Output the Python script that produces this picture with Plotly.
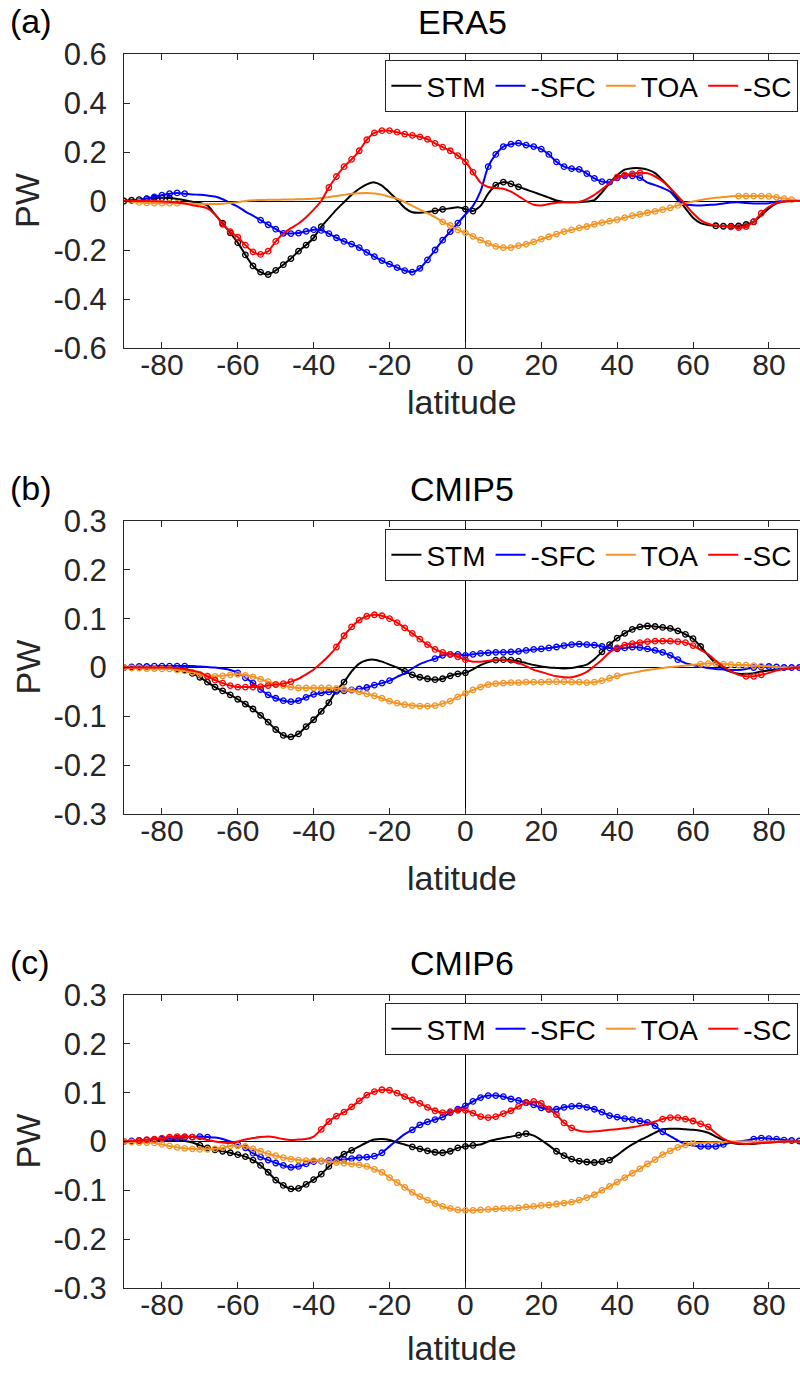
import plotly.graph_objects as go

W, H = 800, 1374

lat = list(range(-90, 91, 2))

# ---------------- ERA5 ----------------
era5_stm = [0, 0.003, 0.006, 0.009, 0.012, 0.013, 0.012, 0.008, 0.003, -0.003,
            -0.008, -0.018, -0.055, -0.09, -0.13, -0.17, -0.22, -0.265, -0.29, -0.30,
            -0.283, -0.26, -0.235, -0.205, -0.18, -0.15, -0.105, -0.07, -0.035, -0.005,
            0.025, 0.05, 0.068, 0.076, 0.063, 0.035, 0.005, -0.028, -0.046, -0.048,
            -0.045, -0.04, -0.034, -0.03, -0.026, -0.033, -0.041, -0.02, 0.03, 0.065,
            0.077, 0.07, 0.058, 0.047, 0.036, 0.025, 0.014, 0.002, -0.004, -0.005,
            -0.004, -0.002, 0.004, 0.035, 0.073, 0.105, 0.128, 0.134, 0.134, 0.128,
            0.114, 0.085, 0.052, 0.01, -0.03, -0.068, -0.09, -0.098, -0.101, -0.103,
            -0.103, -0.102, -0.096, -0.085, -0.058, -0.03, -0.01, -0.002, 0, 0, 0]
era5_sfc = [0, 0.002, 0.005, 0.01, 0.017, 0.024, 0.03, 0.033, 0.03, 0.027,
            0.025, 0.022, 0.018, 0.007, -0.008, -0.023, -0.043, -0.06, -0.078, -0.097,
            -0.115, -0.132, -0.133, -0.131, -0.124, -0.117, -0.12, -0.133, -0.15, -0.165,
            -0.176, -0.19, -0.21, -0.227, -0.243, -0.258, -0.272, -0.284, -0.29, -0.275,
            -0.24, -0.2, -0.16, -0.125, -0.09, -0.055, -0.02, 0.04, 0.14, 0.19,
            0.222, 0.232, 0.236, 0.228, 0.222, 0.212, 0.19, 0.16, 0.14, 0.132,
            0.129, 0.112, 0.092, 0.079, 0.077, 0.094, 0.103, 0.103, 0.095, 0.075,
            0.065, 0.053, 0.038, 0.003, -0.015, -0.017, -0.018, -0.016, -0.014, -0.01,
            -0.006, -0.005, -0.008, -0.01, -0.01, -0.009, -0.003, 0, 0, 0, 0]
era5_toa = [0, -0.003, -0.006, -0.008, -0.009, -0.009, -0.009, -0.009, -0.01, -0.011,
            -0.012, -0.012, -0.012, -0.011, -0.008, -0.005, 0, 0.003, 0.004, 0.005,
            0.005, 0.006, 0.006, 0.007, 0.008, 0.009, 0.012, 0.016, 0.02, 0.025,
            0.03, 0.032, 0.033, 0.031, 0.026, 0.017, 0.009, -0.004, -0.02, -0.035,
            -0.05, -0.066, -0.085, -0.1, -0.118, -0.13, -0.144, -0.16, -0.173, -0.185,
            -0.19, -0.19, -0.182, -0.176, -0.167, -0.156, -0.146, -0.135, -0.125, -0.118,
            -0.11, -0.104, -0.095, -0.088, -0.082, -0.076, -0.068, -0.06, -0.054, -0.048,
            -0.042, -0.035, -0.028, -0.018, -0.009, -0.002, 0.004, 0.009, 0.013, 0.016,
            0.019, 0.02, 0.02, 0.02, 0.02, 0.019, 0.015, 0.01, 0.006, 0.002, 0]
era5_sc = [0, 0, 0, 0, -0.001, -0.002, -0.004, -0.006, -0.01, -0.017,
           -0.022, -0.03, -0.055, -0.095, -0.125, -0.148, -0.18, -0.208, -0.218, -0.205,
           -0.165, -0.133, -0.111, -0.092, -0.066, -0.035, 0.0, 0.055, 0.1, 0.14,
           0.17, 0.205, 0.25, 0.278, 0.287, 0.287, 0.281, 0.273, 0.268, 0.262,
           0.252, 0.235, 0.22, 0.205, 0.185, 0.16, 0.118, 0.075, 0.057, 0.053,
           0.05, 0.038, 0.02, 0.0, -0.015, -0.018, -0.012, -0.007, -0.005, -0.005,
           -0.003, 0.008, 0.025, 0.048, 0.073, 0.097, 0.106, 0.111, 0.115, 0.113,
           0.1, 0.08, 0.052, 0.02, -0.015, -0.05, -0.078, -0.093, -0.1, -0.102,
           -0.106, -0.109, -0.104, -0.084, -0.05, -0.024, -0.008, -0.002, 0, 0, 0]
era5_sig_stm = [(-90, -78), (-64, -38), (-8, -6), (0, 2), (8, 14), (66, 76)]
era5_sig_sfc = [(-84, -74), (-54, -2), (6, 46)]
era5_sig_toa = [(-86, -76), (-6, 56), (72, 86)]
era5_sig_sc = [(-64, -50), (-36, 2), (40, 46), (70, 78)]

# ---------------- CMIP5 ----------------
cmip5_stm = [0, 0, 0, 0, 0, 0, 0, -0.002, -0.005, -0.012,
             -0.02, -0.03, -0.04, -0.048, -0.056, -0.065, -0.075, -0.085, -0.098, -0.112,
             -0.127, -0.139, -0.142, -0.136, -0.121, -0.107, -0.09, -0.072, -0.047, -0.03,
             -0.008, 0.008, 0.015, 0.016, 0.012, 0.006, 0.0, -0.008, -0.015, -0.02,
             -0.023, -0.025, -0.023, -0.017, -0.013, -0.011, -0.004, 0.005, 0.011, 0.015,
             0.016, 0.015, 0.013, 0.009, 0.005, 0.002, 0.0, -0.001, -0.002, -0.001,
             0.002, 0.006, 0.017, 0.032, 0.047, 0.06, 0.07, 0.078, 0.083, 0.085,
             0.084, 0.082, 0.08, 0.075, 0.068, 0.059, 0.043, 0.025, 0.008, -0.003,
             -0.009, -0.013, -0.013, -0.012, -0.008, -0.006, -0.004, -0.003, -0.001, 0, 0]
cmip5_sfc = [0, 0.001, 0.002, 0.002, 0.003, 0.003, 0.003, 0.003, 0.003, 0.003,
             0.002, 0.001, 0, -0.002, -0.005, -0.011, -0.021, -0.032, -0.045, -0.056,
             -0.063, -0.068, -0.07, -0.068, -0.061, -0.055, -0.052, -0.05, -0.049, -0.048,
             -0.046, -0.044, -0.041, -0.036, -0.032, -0.027, -0.019, -0.012, -0.002, 0.007,
             0.013, 0.018, 0.025, 0.027, 0.027, 0.025, 0.027, 0.029, 0.03, 0.031,
             0.031, 0.032, 0.033, 0.035, 0.037, 0.038, 0.04, 0.042, 0.045, 0.047,
             0.048, 0.047, 0.046, 0.043, 0.04, 0.038, 0.04, 0.042, 0.041, 0.038,
             0.035, 0.031, 0.025, 0.016, 0.009, 0.005, 0.002, -0.001, -0.003, -0.004,
             -0.005, -0.005, -0.003, 0, 0.001, 0.002, 0.001, 0, 0, 0, 0]
cmip5_toa = [0, -0.001, -0.001, -0.002, -0.002, -0.003, -0.003, -0.005, -0.007, -0.01,
             -0.014, -0.017, -0.018, -0.017, -0.015, -0.014, -0.016, -0.019, -0.024, -0.029,
             -0.034, -0.037, -0.04, -0.042, -0.042, -0.042, -0.042, -0.042, -0.043, -0.045,
             -0.047, -0.05, -0.054, -0.058, -0.063, -0.069, -0.073, -0.076, -0.078, -0.079,
             -0.079, -0.078, -0.074, -0.069, -0.06, -0.053, -0.046, -0.04, -0.035, -0.033,
             -0.032, -0.031, -0.031, -0.03, -0.03, -0.03, -0.029, -0.029, -0.029, -0.03,
             -0.03, -0.031, -0.03, -0.027, -0.022, -0.017, -0.014, -0.011, -0.008, -0.005,
             -0.003, -0.001, 0.001, 0.002, 0.004, 0.005, 0.007, 0.008, 0.008, 0.007,
             0.006, 0.005, 0.005, 0.004, 0.003, 0.002, 0.001, 0, 0, 0, 0]
cmip5_sc = [0, 0, 0, 0, 0, 0, 0, -0.001, -0.003, -0.006,
            -0.01, -0.018, -0.026, -0.032, -0.037, -0.04, -0.04, -0.04, -0.039, -0.037,
            -0.035, -0.033, -0.029, -0.023, -0.014, -0.004, 0.009, 0.024, 0.042, 0.065,
            0.083, 0.097, 0.105, 0.108, 0.106, 0.1, 0.092, 0.081, 0.07, 0.058,
            0.047, 0.037, 0.031, 0.027, 0.022, 0.016, 0.012, 0.012, 0.014, 0.016,
            0.016, 0.013, 0.009, 0.003, -0.005, -0.009, -0.014, -0.018, -0.02, -0.02,
            -0.016, -0.009, 0.003, 0.016, 0.031, 0.04, 0.046, 0.049, 0.051, 0.053,
            0.054, 0.054, 0.054, 0.053, 0.051, 0.045, 0.036, 0.027, 0.014, 0.002,
            -0.008, -0.015, -0.018, -0.018, -0.015, -0.011, -0.006, -0.003, -0.001, 0, 0]
cmip5_sig_stm = [(-76, -32), (-16, 0), (8, 14), (36, 62)]
cmip5_sig_sfc = [(-90, -74), (-60, -20), (-8, 56), (76, 90)]
cmip5_sig_toa = [(-90, 40), (62, 78)]
cmip5_sig_sc = [(-68, -46), (-34, 0), (40, 60), (74, 78)]

# ---------------- CMIP6 ----------------
cmip6_stm = [0, 0.001, 0.002, 0.003, 0.003, 0.003, 0.003, 0.003, 0.001, -0.002,
             -0.008, -0.013, -0.017, -0.02, -0.023, -0.027, -0.031, -0.038, -0.049, -0.063,
             -0.079, -0.09, -0.097, -0.096, -0.088, -0.078, -0.067, -0.051, -0.037, -0.026,
             -0.018, -0.01, -0.002, 0.004, 0.005, 0.003, -0.002, -0.006, -0.011, -0.015,
             -0.019, -0.022, -0.023, -0.02, -0.013, -0.01, -0.008, -0.006, 0.0, 0.004,
             0.007, 0.01, 0.013, 0.016, 0.012, 0.003, -0.008, -0.02, -0.029, -0.036,
             -0.04, -0.042, -0.043, -0.041, -0.038, -0.028, -0.016, -0.006, 0.003, 0.01,
             0.018, 0.025, 0.026, 0.026, 0.025, 0.024, 0.022, 0.018, 0.01, 0.003,
             -0.002, -0.005, -0.005, -0.005, -0.003, -0.002, -0.001, 0, 0, 0, 0]
cmip6_sfc = [0, 0.001, 0.002, 0.003, 0.004, 0.005, 0.006, 0.007, 0.008, 0.009,
             0.01, 0.009, 0.008, 0.005, 0.0, -0.006, -0.013, -0.024, -0.032, -0.038,
             -0.044, -0.049, -0.053, -0.051, -0.046, -0.041, -0.04, -0.039, -0.038, -0.037,
             -0.035, -0.033, -0.032, -0.03, -0.023, -0.01, 0.003, 0.015, 0.024, 0.034,
             0.04, 0.045, 0.05, 0.059, 0.066, 0.073, 0.082, 0.09, 0.094, 0.094,
             0.092, 0.087, 0.084, 0.08, 0.075, 0.069, 0.066, 0.066, 0.07, 0.072,
             0.073, 0.07, 0.066, 0.06, 0.053, 0.05, 0.047, 0.045, 0.042, 0.039,
             0.032, 0.02, 0.011, 0.002, -0.005, -0.008, -0.01, -0.01, -0.01, -0.006,
             -0.002, 0.0, 0.002, 0.005, 0.007, 0.006, 0.005, 0.003, 0.002, 0.001, 0]
cmip6_toa = [0, -0.001, -0.002, -0.002, -0.003, -0.006, -0.009, -0.012, -0.014, -0.015,
             -0.016, -0.016, -0.015, -0.013, -0.009, -0.009, -0.01, -0.015, -0.02, -0.025,
             -0.029, -0.033, -0.036, -0.038, -0.039, -0.039, -0.04, -0.041, -0.043, -0.044,
             -0.046, -0.048, -0.051, -0.057, -0.063, -0.074, -0.084, -0.094, -0.104, -0.113,
             -0.12, -0.127, -0.133, -0.137, -0.14, -0.141, -0.141, -0.14, -0.139, -0.138,
             -0.137, -0.137, -0.136, -0.134, -0.133, -0.131, -0.13, -0.128, -0.126, -0.124,
             -0.12, -0.115, -0.109, -0.1, -0.092, -0.083, -0.074, -0.065, -0.056, -0.046,
             -0.037, -0.027, -0.019, -0.012, -0.007, -0.004, -0.003, -0.002, -0.002, -0.001,
             0, 0, 0, 0, 0, 0, 0, 0, 0, 0, 0]
cmip6_sc = [0, 0.001, 0.002, 0.004, 0.005, 0.007, 0.009, 0.01, 0.01, 0.009,
            0.007, 0.003, 0, -0.002, -0.003, 0, 0.004, 0.007, 0.009, 0.01,
            0.008, 0.005, 0.003, 0.004, 0.005, 0.01, 0.025, 0.041, 0.052, 0.06,
            0.071, 0.083, 0.095, 0.102, 0.106, 0.105, 0.099, 0.092, 0.085, 0.078,
            0.07, 0.063, 0.059, 0.061, 0.064, 0.064, 0.058, 0.051, 0.049, 0.051,
            0.057, 0.063, 0.072, 0.079, 0.082, 0.078, 0.066, 0.055, 0.038, 0.028,
            0.022, 0.02, 0.021, 0.022, 0.024, 0.025, 0.027, 0.029, 0.032, 0.036,
            0.041, 0.046, 0.049, 0.049, 0.046, 0.042, 0.036, 0.03, 0.017, 0.006,
            -0.001, -0.004, -0.005, -0.004, -0.003, -0.002, -0.001, 0, 0, 0, 0]
cmip6_sig_stm = [(-70, -30), (-14, 2), (14, 16), (24, 38)]
cmip6_sig_sfc = [(-90, -68), (-60, -22), (-14, 52), (62, 68), (76, 90)]
cmip6_sig_toa = [(-90, 60)]
cmip6_sig_sc = [(-86, -72), (-38, 28), (52, 64)]

series_names = ["STM", "-SFC", "TOA", "-SC"]
series_colors = ["#000000", "#0000FF", "#F39323", "#FF0000"]

x_ticks = [-80, -60, -40, -20, 0, 20, 40, 60, 80]
x_ticktext = ["-80", "-60", "-40", "-20", "0", "20", "40", "60", "80"]
ya_ticks = [-0.6, -0.4, -0.2, 0, 0.2, 0.4, 0.6]
ya_ticktext = ["-0.6", "-0.4", "-0.2", "0", "0.2", "0.4", "0.6"]
yb_ticks = [-0.3, -0.2, -0.1, 0, 0.1, 0.2, 0.3]
yb_ticktext = ["-0.3", "-0.2", "-0.1", "0", "0.1", "0.2", "0.3"]

panels = [
    dict(title="ERA5", tag="(a)", data=[era5_stm, era5_sfc, era5_toa, era5_sc],
         sig=[era5_sig_stm, era5_sig_sfc, era5_sig_toa, era5_sig_sc],
         yr=[-0.6, 0.6], yt=ya_ticks, ytt=ya_ticktext, top=54, bot=348, leg_top=60, lab=54),
    dict(title="CMIP5", tag="(b)", data=[cmip5_stm, cmip5_sfc, cmip5_toa, cmip5_sc],
         sig=[cmip5_sig_stm, cmip5_sig_sfc, cmip5_sig_toa, cmip5_sig_sc],
         yr=[-0.3, 0.3], yt=yb_ticks, ytt=yb_ticktext, top=521, bot=814, leg_top=529, lab=64),
    dict(title="CMIP6", tag="(c)", data=[cmip6_stm, cmip6_sfc, cmip6_toa, cmip6_sc],
         sig=[cmip6_sig_stm, cmip6_sig_sfc, cmip6_sig_toa, cmip6_sig_sc],
         yr=[-0.3, 0.3], yt=yb_ticks, ytt=yb_ticktext, top=995, bot=1288, leg_top=1003, lab=60),
]

FONT = "Liberation Sans, Arial, Helvetica, sans-serif"
TXT = "#262626"
X0 = 124

def py(Y):
    return 1 - Y / H

fig = go.Figure()
layout = dict(width=W, height=H, autosize=False, margin=dict(l=0, r=0, t=0, b=0, pad=0),
              paper_bgcolor="white", plot_bgcolor="white", showlegend=True,
              font=dict(family=FONT, color=TXT))
annotations = []

for i, p in enumerate(panels):
    n = "" if i == 0 else str(i + 1)
    xa, ya = "x" + n, "y" + n
    leg = "legend" + n
    for k in range(4):
        vals = p["data"][k]
        fig.add_trace(go.Scatter(x=lat, y=vals, mode="lines", name=series_names[k],
                                 line=dict(color=series_colors[k], width=2, shape="spline", smoothing=0.6),
                                 xaxis=xa, yaxis=ya, legend=leg, showlegend=True))
        msk = [v if any(a <= l <= b for a, b in p["sig"][k]) else None for l, v in zip(lat, vals)]
        fig.add_trace(go.Scatter(x=lat, y=msk, mode="markers", name=series_names[k],
                                 marker=dict(symbol="circle-open", size=5.5, color=series_colors[k],
                                             line=dict(width=1.3, color=series_colors[k])),
                                 xaxis=xa, yaxis=ya, legend=leg, showlegend=False, hoverinfo="skip"))
    layout["xaxis" + n] = dict(domain=[X0 / W, 1.0], range=[-90, 88.2], anchor=ya, automargin=False,
                               tickvals=x_ticks, ticktext=x_ticktext, ticks="inside", ticklen=6,
                               tickcolor=TXT, showline=True, linecolor=TXT, linewidth=1, mirror="ticks",
                               showgrid=False, zeroline=True, zerolinecolor="black", zerolinewidth=1,
                               tickfont=dict(size=30, color=TXT), ticklabelstandoff=-10)
    layout["yaxis" + n] = dict(domain=[py(p["bot"]), py(p["top"])], range=p["yr"], anchor=xa, automargin=False,
                               tickvals=p["yt"], ticktext=p["ytt"], ticks="inside", ticklen=6,
                               tickcolor=TXT, showline=True, linecolor=TXT, linewidth=1, mirror=False,
                               showgrid=False, zeroline=True, zerolinecolor="black", zerolinewidth=1,
                               tickfont=dict(size=31, color=TXT), ticklabelstandoff=10)
    layout[leg] = dict(orientation="h", x=0.998, xanchor="right", y=py(p["leg_top"]), yanchor="top",
                       bgcolor="white", bordercolor=TXT, borderwidth=1,
                       font=dict(size=28, color="black", family=FONT),
                       itemwidth=30, tracegroupgap=0)
    annotations.append(dict(text=p["title"], x=462 / W, y=py(p["top"] - 32), xref="paper", yref="paper",
                            showarrow=False, font=dict(size=34, color="black"), xanchor="center", yanchor="middle"))
    annotations.append(dict(text=p["tag"], x=8 / W, y=py(p["top"] - 33), xref="paper", yref="paper",
                            showarrow=False, font=dict(size=34, color="black"), xanchor="left", yanchor="middle"))
    annotations.append(dict(text="PW", x=27 / W, y=py((p["top"] + p["bot"]) / 2), xref="paper", yref="paper",
                            showarrow=False, textangle=-90, font=dict(size=34, color=TXT),
                            xanchor="center", yanchor="middle"))
    annotations.append(dict(text="latitude", x=462 / W, y=py(p["bot"] + p["lab"]), xref="paper", yref="paper",
                            showarrow=False, font=dict(size=34, color=TXT), xanchor="center", yanchor="middle"))

layout["annotations"] = annotations
fig.update_layout(**layout)
fig.write_html("out.html", config={"displayModeBar": False},
               post_script="document.body.style.margin='0px';document.body.style.overflow='hidden';")
